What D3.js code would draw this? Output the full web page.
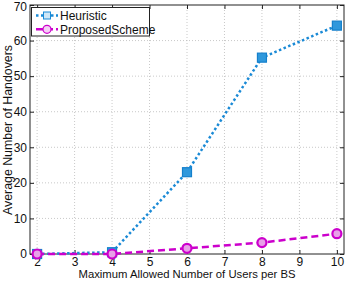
<!DOCTYPE html>
<html><head><meta charset="utf-8">
<script src="https://cdn.jsdelivr.net/npm/d3@7"></script>
<style>body{margin:0;background:#fff}svg{display:block}text{font-family:"Liberation Sans",Arial,sans-serif}</style>
</head><body>
<script>
const xValues = [2, 4, 6, 8, 10];
const heuristic = [0, 0.5, 23, 55.2, 64.2];
const proposed = [0, 0, 1.6, 3.2, 5.7];
const xTicks = [2, 3, 4, 5, 6, 7, 8, 9, 10];
const yTicks = [0, 10, 20, 30, 40, 50, 60, 70];
const seriesNames = ["Heuristic", "ProposedScheme"];

const W = 346, H = 281;
const m = {l: 30, r: 2, t: 5, b: 27};
const svg = d3.select("body").append("svg").attr("width", W).attr("height", H);
const x = d3.scaleLinear().domain([1.81, 10.19]).range([m.l, W - m.r]);
const y = d3.scaleLinear().domain([0, 70]).range([H - m.b, m.t]);
const [x0, x1] = x.range();

const blue = "#1a8ad6", mag = "#cc00cc";
const font = '"Liberation Sans",Arial,sans-serif';

// grid
const g = svg.append("g");
g.selectAll(".gx").data(xTicks).enter().append("line")
  .attr("x1", d => x(d)).attr("x2", d => x(d)).attr("y1", y(0)).attr("y2", y(70))
  .attr("stroke", "#bbb").attr("stroke-width", 0.8).attr("stroke-dasharray", "1,2");
g.selectAll(".gy").data(yTicks.slice(1, -1)).enter().append("line")
  .attr("y1", d => y(d)).attr("y2", d => y(d)).attr("x1", x0).attr("x2", x1)
  .attr("stroke", "#bbb").attr("stroke-width", 0.8).attr("stroke-dasharray", "1,2");

// axes
const ax = svg.append("g").attr("transform", `translate(0,${y(0)})`)
  .call(d3.axisBottom(x).tickValues(xTicks).tickSize(-4).tickPadding(3).tickFormat(d3.format("d")));
const ax2 = svg.append("g").attr("transform", `translate(0,${y(70)})`)
  .call(d3.axisTop(x).tickValues(xTicks).tickSize(-4).tickFormat(""));
const ay = svg.append("g").attr("transform", `translate(${x0},0)`)
  .call(d3.axisLeft(y).tickValues(yTicks).tickSize(-4).tickPadding(3));
const ay2 = svg.append("g").attr("transform", `translate(${x1},0)`)
  .call(d3.axisRight(y).tickValues(yTicks).tickSize(-4).tickFormat(""));
[ax, ax2, ay, ay2].forEach(a => {
  a.select(".domain").remove();
  a.selectAll("line").attr("stroke", "#222");
  a.selectAll("text").attr("font-size", 12).attr("fill", "#111").attr("font-family", font);
});
ay.selectAll(".tick text").filter(d => d === 70).attr("dy", "0.42em");
svg.append("rect").attr("x", x0).attr("y", y(70)).attr("width", x1 - x0).attr("height", y(0) - y(70))
  .attr("fill", "none").attr("stroke", "#222").attr("stroke-width", 1);

// lines
const line = d3.line().x((d, i) => x(xValues[i])).y(d => y(d));
svg.append("path").datum(heuristic).attr("d", line).attr("fill", "none")
  .attr("stroke", blue).attr("stroke-width", 2.5).attr("stroke-dasharray", "2.5,2.5");
svg.append("path").datum(proposed).attr("d", line).attr("fill", "none")
  .attr("stroke", mag).attr("stroke-width", 2.5).attr("stroke-dasharray", "7,4");

svg.selectAll(".sq").data(heuristic).enter().append("rect")
  .attr("x", (d, i) => x(xValues[i]) - 4.5).attr("y", d => y(d) - 4.5)
  .attr("width", 9).attr("height", 9).attr("fill", "#2f98dc").attr("stroke", "#1580cc").attr("stroke-width", 1.2);
svg.selectAll(".ci").data(proposed).enter().append("circle")
  .attr("cx", (d, i) => x(xValues[i])).attr("cy", d => y(d)).attr("r", 4.5)
  .attr("fill", "#e8a0e8").attr("stroke", mag).attr("stroke-width", 2.2);

// legend
const lg = svg.append("g");
lg.append("rect").attr("x", 31.5).attr("y", 7.5).attr("width", 118).attr("height", 28.5)
  .attr("fill", "#fff").attr("stroke", "#222").attr("stroke-width", 1);
lg.append("line").attr("x1", 36).attr("x2", 58).attr("y1", 15.5).attr("y2", 15.5)
  .attr("stroke", blue).attr("stroke-width", 2.5).attr("stroke-dasharray", "2.5,2.5");
lg.append("rect").attr("x", 43.5).attr("y", 12).attr("width", 7).attr("height", 7)
  .attr("fill", "#cfe7f7").attr("stroke", blue).attr("stroke-width", 1);
lg.append("line").attr("x1", 36).attr("x2", 58).attr("y1", 29.3).attr("y2", 29.3)
  .attr("stroke", mag).attr("stroke-width", 2.5).attr("stroke-dasharray", "7,3");
lg.append("circle").attr("cx", 47).attr("cy", 29.3).attr("r", 4)
  .attr("fill", "#f4d0f4").attr("stroke", mag).attr("stroke-width", 1.2);
lg.selectAll("text").data(seriesNames).enter().append("text")
  .attr("x", 60).attr("y", (d, i) => 19.8 + i * 14).attr("font-size", 12).attr("fill", "#111").text(d => d);

// labels
svg.append("text").attr("x", (x0 + x1) / 2).attr("y", 278.3).attr("text-anchor", "middle")
  .attr("font-size", 11.5).attr("fill", "#111").attr("textLength", 217).attr("lengthAdjust", "spacingAndGlyphs")
  .text("Maximum Allowed Number of Users per BS");
svg.append("text").attr("transform", `translate(11.5,130) rotate(-90)`).attr("text-anchor", "middle")
  .attr("font-size", 12).attr("fill", "#111").attr("textLength", 170).attr("lengthAdjust", "spacingAndGlyphs")
  .text("Average Number of Handovers");
</script>
</body></html>
